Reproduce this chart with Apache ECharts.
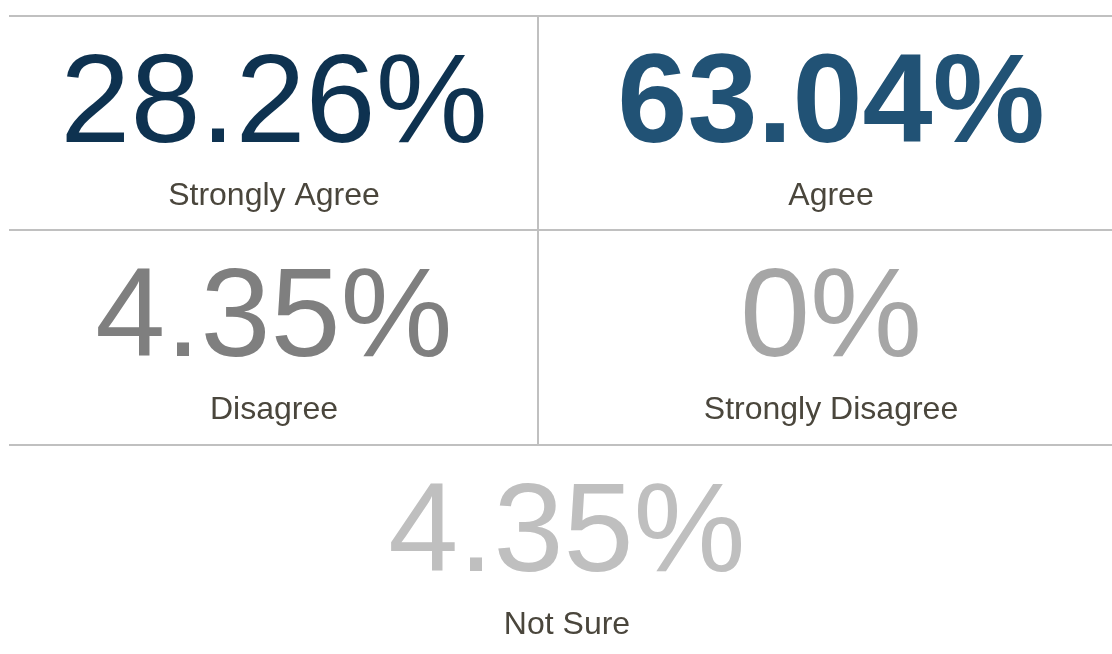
<!DOCTYPE html>
<html>
<head>
<meta charset="utf-8">
<script src="https://cdn.jsdelivr.net/npm/echarts@6/dist/echarts.min.js"></script>
<style>
html,body{margin:0;padding:0;background:#fff;}
#chart{width:1112px;height:654px;}
</style>
</head>
<body>
<div id="chart"></div>
<script>
const categories = ['Strongly Agree', 'Agree', 'Disagree', 'Strongly Disagree', 'Not Sure'];
const values = [28.26, 63.04, 4.35, 0, 4.35];
const valueColors = ['#0e3250', '#215275', '#7f7f7f', '#a6a6a6', '#bfbfbf'];
const valueBold = [false, true, false, false, false];

const chart = echarts.init(document.getElementById('chart'), null, {renderer: 'canvas'});

const left = 10, right = 1124, mid = 538;
const rowTops = [16, 230, 445];
const lineColor = '#c0c0c0';
const fontFam = 'Liberation Sans';

const cells = [
  {row: 0, x0: left, x1: mid},
  {row: 0, x0: mid, x1: right},
  {row: 1, x0: left, x1: mid},
  {row: 1, x0: mid, x1: right},
  {row: 2, x0: left, x1: right}
];

const elements = [];
rowTops.forEach(y => {
  elements.push({type: 'line', shape: {x1: left - 1, y1: y, x2: right, y2: y}, style: {stroke: lineColor, lineWidth: 2}});
});
elements.push({type: 'line', shape: {x1: mid, y1: rowTops[0], x2: mid, y2: rowTops[2]}, style: {stroke: lineColor, lineWidth: 2}});

function fmt(v) { return (Math.round(v * 100) / 100) + '%'; }

categories.forEach((c, i) => {
  const cell = cells[i];
  const cx = (cell.x0 + cell.x1) / 2;
  const top = rowTops[cell.row];
  elements.push({
    type: 'text', x: cx, y: top + 91,
    style: {text: fmt(values[i]), fill: valueColors[i], fontFamily: fontFam, fontSize: 126,
      fontWeight: valueBold[i] ? 'bold' : 'normal', align: 'center', verticalAlign: 'middle'}
  });
  elements.push({
    type: 'text', x: cx, y: top + 180,
    style: {text: c, fill: '#4a463c', fontFamily: fontFam, fontSize: 32, fontWeight: 'normal',
      align: 'center', verticalAlign: 'middle'}
  });
});

chart.setOption({backgroundColor: '#ffffff', animation: false, graphic: {elements: elements}});
</script>
</body>
</html>
